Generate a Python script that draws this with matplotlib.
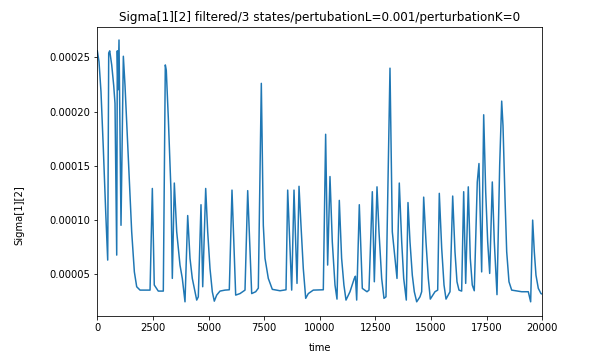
import matplotlib
matplotlib.use('Agg')
import matplotlib.pyplot as plt
import numpy as np

# значения (sigma в единицах 1e-5)
time = [0, 76, 166, 270, 377, 467, 512, 557, 647, 737, 795, 872, 899, 930, 975,
        1065, 1170, 1245, 1395, 1545, 1665, 1770, 1920, 2370, 2473, 2560, 2740,
        2966, 3056, 3100, 3191, 3312, 3371, 3461, 3568, 3716, 3820, 3941, 4062,
        4166, 4269, 4359, 4467, 4539, 4660, 4737, 4871, 4961, 5065, 5168, 5258,
        5366, 5514, 5739, 5932, 6053, 6219, 6413, 6638, 6759, 6938, 7118, 7236,
        7371, 7461, 7537, 7685, 7865, 8211, 8481, 8556, 8736, 8840, 8975, 9065,
        9154, 9258, 9366, 9483, 9707, 10157, 10262, 10352, 10457, 10561, 10682,
        10772, 10876, 10980, 11083, 11177, 11356, 11550, 11600, 11657, 11775,
        11910, 12120, 12210, 12360, 12450, 12570, 12660, 12780, 12884, 12974,
        13154, 13258, 13379, 13469, 13572, 13680, 13770, 13887, 13963, 14053,
        14157, 14247, 14354, 14502, 14578, 14668, 14772, 14876, 14966, 15176,
        15298, 15370, 15478, 15582, 15672, 15851, 15972, 16075, 16165, 16255,
        16375, 16466, 16556, 16673, 16763, 16852, 16942, 17077, 17153, 17274,
        17365, 17455, 17545, 17635, 17752, 17842, 17963, 18084, 18174, 18233,
        18323, 18399, 18502, 18623, 19072, 19370, 19476, 19566, 19640, 19715,
        19820, 19940, 20000]
sigma = [25.6, 24.6, 21.8, 16.6, 10.75, 6.29, 25.4, 25.6, 24.3, 22.4, 20.75, 6.75,
         25.6, 22.0, 26.6, 9.5, 25.1, 22.4, 15.7, 8.9, 5.2, 3.83, 3.52, 3.52,
         12.9, 3.99, 3.43, 3.43, 24.3, 23.8, 19.4, 12.6, 4.6, 13.4, 8.9, 5.83,
         4.6, 2.44, 10.4, 6.45, 4.6, 3.68, 2.6, 2.9, 11.4, 3.83, 12.9, 8.9, 5.5,
         3.37, 2.5, 3.06, 3.43, 3.52, 3.55, 12.75, 3.06, 3.2, 3.52, 12.7, 3.2,
         3.37, 3.7, 22.6, 9.5, 6.45, 4.6, 3.59, 3.46, 3.55, 12.75, 3.52, 12.75,
         4.14, 13.1, 9.5, 5.5, 2.76, 3.2, 3.52, 3.55, 17.9, 5.83, 14.0, 7.98,
         3.99, 2.69, 11.8, 6.45, 3.99, 2.6, 3.37, 4.6, 4.8, 2.6, 11.4, 3.68,
         3.37, 3.52, 12.6, 4.29, 13.05, 8.9, 4.6, 2.76, 2.9, 24.0, 8.9, 6.45,
         4.6, 13.4, 7.98, 4.6, 2.6, 11.6, 7.98, 4.9, 3.37, 2.44, 2.9, 3.37,
         12.1, 7.98, 4.6, 2.69, 3.37, 3.52, 12.45, 7.37, 3.99, 2.69, 3.37, 12.2,
         7.06, 4.29, 3.52, 3.43, 12.6, 4.14, 13.05, 6.45, 3.99, 3.46, 13.5, 15.2,
         5.2, 19.7, 12.6, 7.98, 5.06, 13.5, 7.98, 3.1, 15.06, 20.96, 18.7, 12.0,
         7.06, 4.29, 3.52, 3.37, 3.37, 2.44, 9.98, 7.06, 4.9, 3.68, 3.2, 3.15]

sigma = np.array(sigma) * 1e-5

fig = plt.figure(figsize=(597 / 72, 358 / 72), dpi=72)
ax = fig.add_axes([0.163, 0.1173, 0.7454, 0.8073])
ax.plot(time, sigma)
ax.set_xlim(0, 20000)
ax.set_ylim(1.13e-5, 27.8e-5)
ax.set_xlabel('time', labelpad=10)
ax.set_ylabel('Sigma[1][2]')
ax.yaxis.set_label_coords(-0.165, 0.35)
ax.set_title('Sigma[1][2] filtered/3 states/pertubationL=0.001/perturbationK=0')
fig.savefig('out.png', dpi=72)
